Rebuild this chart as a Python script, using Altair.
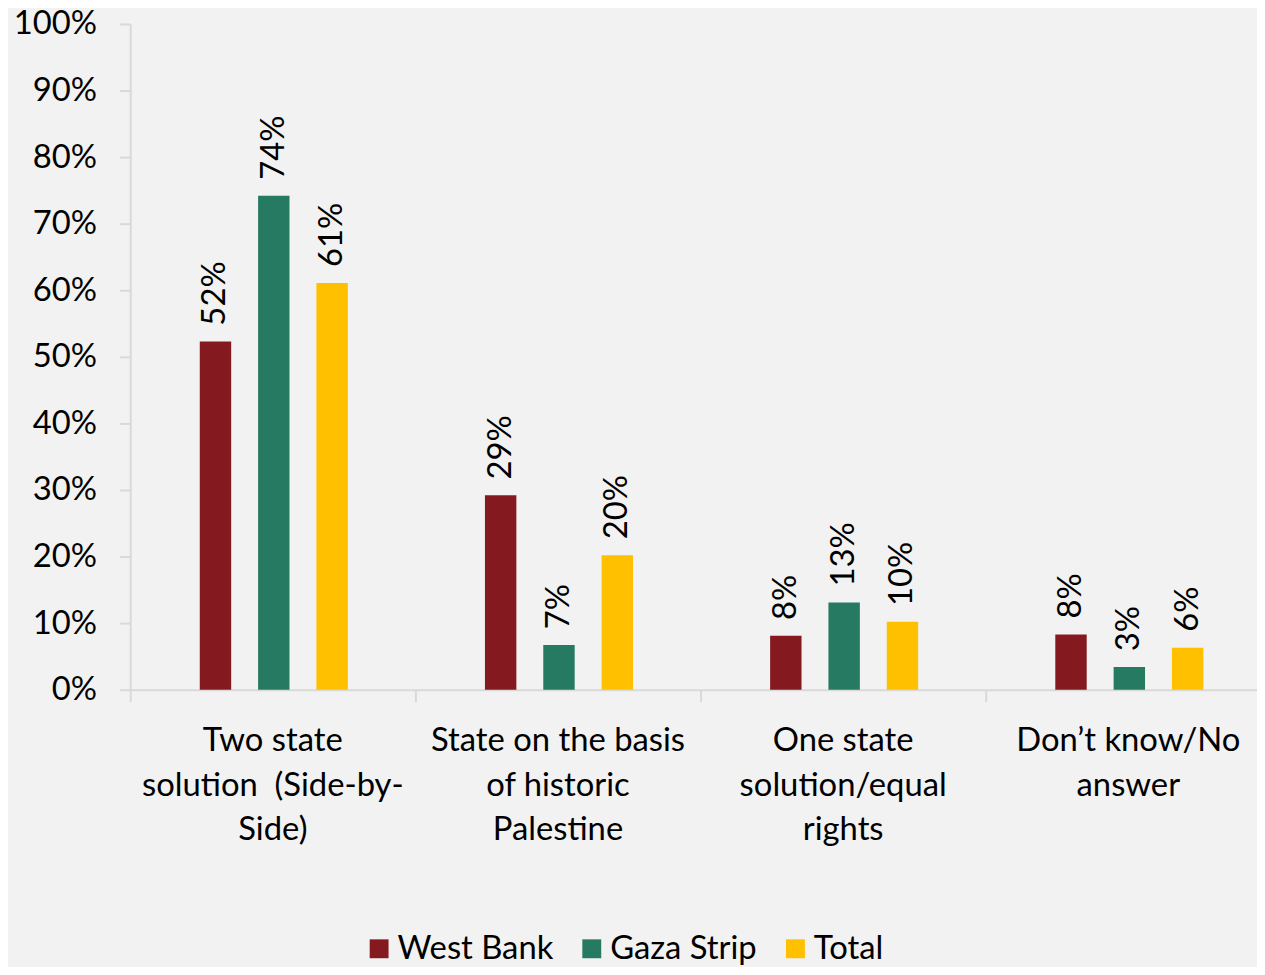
import altair as alt
import pandas as pd

categories = [
    "Two state|solution\u00a0 (Side-by-|Side)",
    "State on the basis|of historic|Palestine",
    "One state|solution/equal|rights",
    "Don’t know/No|answer",
]
series = ["West Bank", "Gaza Strip", "Total"]
west_bank = [0.523, 0.292, 0.081, 0.083]
gaza_strip = [0.742, 0.067, 0.131, 0.034]
total = [0.611, 0.202, 0.102, 0.063]
colors = ["#841a1f", "#267a61", "#ffc000"]
y_ticks = [0, 0.1, 0.2, 0.3, 0.4, 0.5, 0.6, 0.7, 0.8, 0.9, 1.0]

rows = []
for name, vals in zip(series, [west_bank, gaza_strip, total]):
    for cat, v in zip(categories, vals):
        rows.append({"category": cat, "series": name, "value": v})
df = pd.DataFrame(rows)

FONT = "Lato"
FS = 33
AXIS_GRAY = "#d9d9d9"

base = alt.Chart(df).encode(
    x=alt.X(
        "category:N",
        sort=categories,
        scale=alt.Scale(range=[0, 1148], paddingInner=0, paddingOuter=0),
        axis=alt.Axis(
            title=None,
            labelAngle=0,
            bandPosition=0,
            tickSize=12,
            tickWidth=2,
            tickColor=AXIS_GRAY,
            domainColor=AXIS_GRAY,
            domainWidth=2,
            labelPadding=23,
            labelExpr="split(datum.label, '|')",
            labelLineHeight=45,
            labelFont=FONT,
            labelFontSize=FS,
            labelColor="black",
            labelLimit=0,
            labelOverlap=False,
            labelFlush=False,
        ),
    ),
    xOffset=alt.XOffset(
        "series:N",
        sort=series,
        scale=alt.Scale(range=[70, 219], paddingInner=0.4615, paddingOuter=0),
    ),
    y=alt.Y(
        "value:Q",
        scale=alt.Scale(domain=[0, 1]),
        axis=alt.Axis(
            title=None,
            values=y_ticks,
            format=".0%",
            grid=False,
            tickSize=11,
            tickWidth=2,
            tickColor=AXIS_GRAY,
            domainColor=AXIS_GRAY,
            domainWidth=2,
            labelPadding=23,
            labelFont=FONT,
            labelFontSize=FS,
            labelColor="black",
        ),
    ),
)

bars = base.mark_bar().encode(
    color=alt.Color(
        "series:N",
        sort=series,
        scale=alt.Scale(domain=series, range=colors),
        legend=alt.Legend(
            title=None,
            orient="none",
            legendX=234,
            legendY=914,
            direction="horizontal",
            symbolType="square",
            symbolSize=361,
            symbolStrokeWidth=0,
            labelFont=FONT,
            labelFontSize=FS,
            labelColor="black",
            labelOffset=2,
            columnPadding=22,
            padding=0,
        ),
    )
)

labels = base.mark_text(
    angle=270, align="left", baseline="middle", dx=16,
    font=FONT, fontSize=FS, color="black",
).encode(text=alt.Text("value:Q", format=".0%"))

chart = (
    alt.layer(bars, labels)
    .properties(
        width=1134,
        height=670,
        autosize=alt.AutoSizeParams(type="none"),
        padding={"left": 123, "top": 13, "right": 0, "bottom": 276},
        background="#f2f2f2",
    )
    .configure_view(strokeWidth=0)
)

chart.save("out.html", embed_options={"renderer": "svg", "actions": False})
